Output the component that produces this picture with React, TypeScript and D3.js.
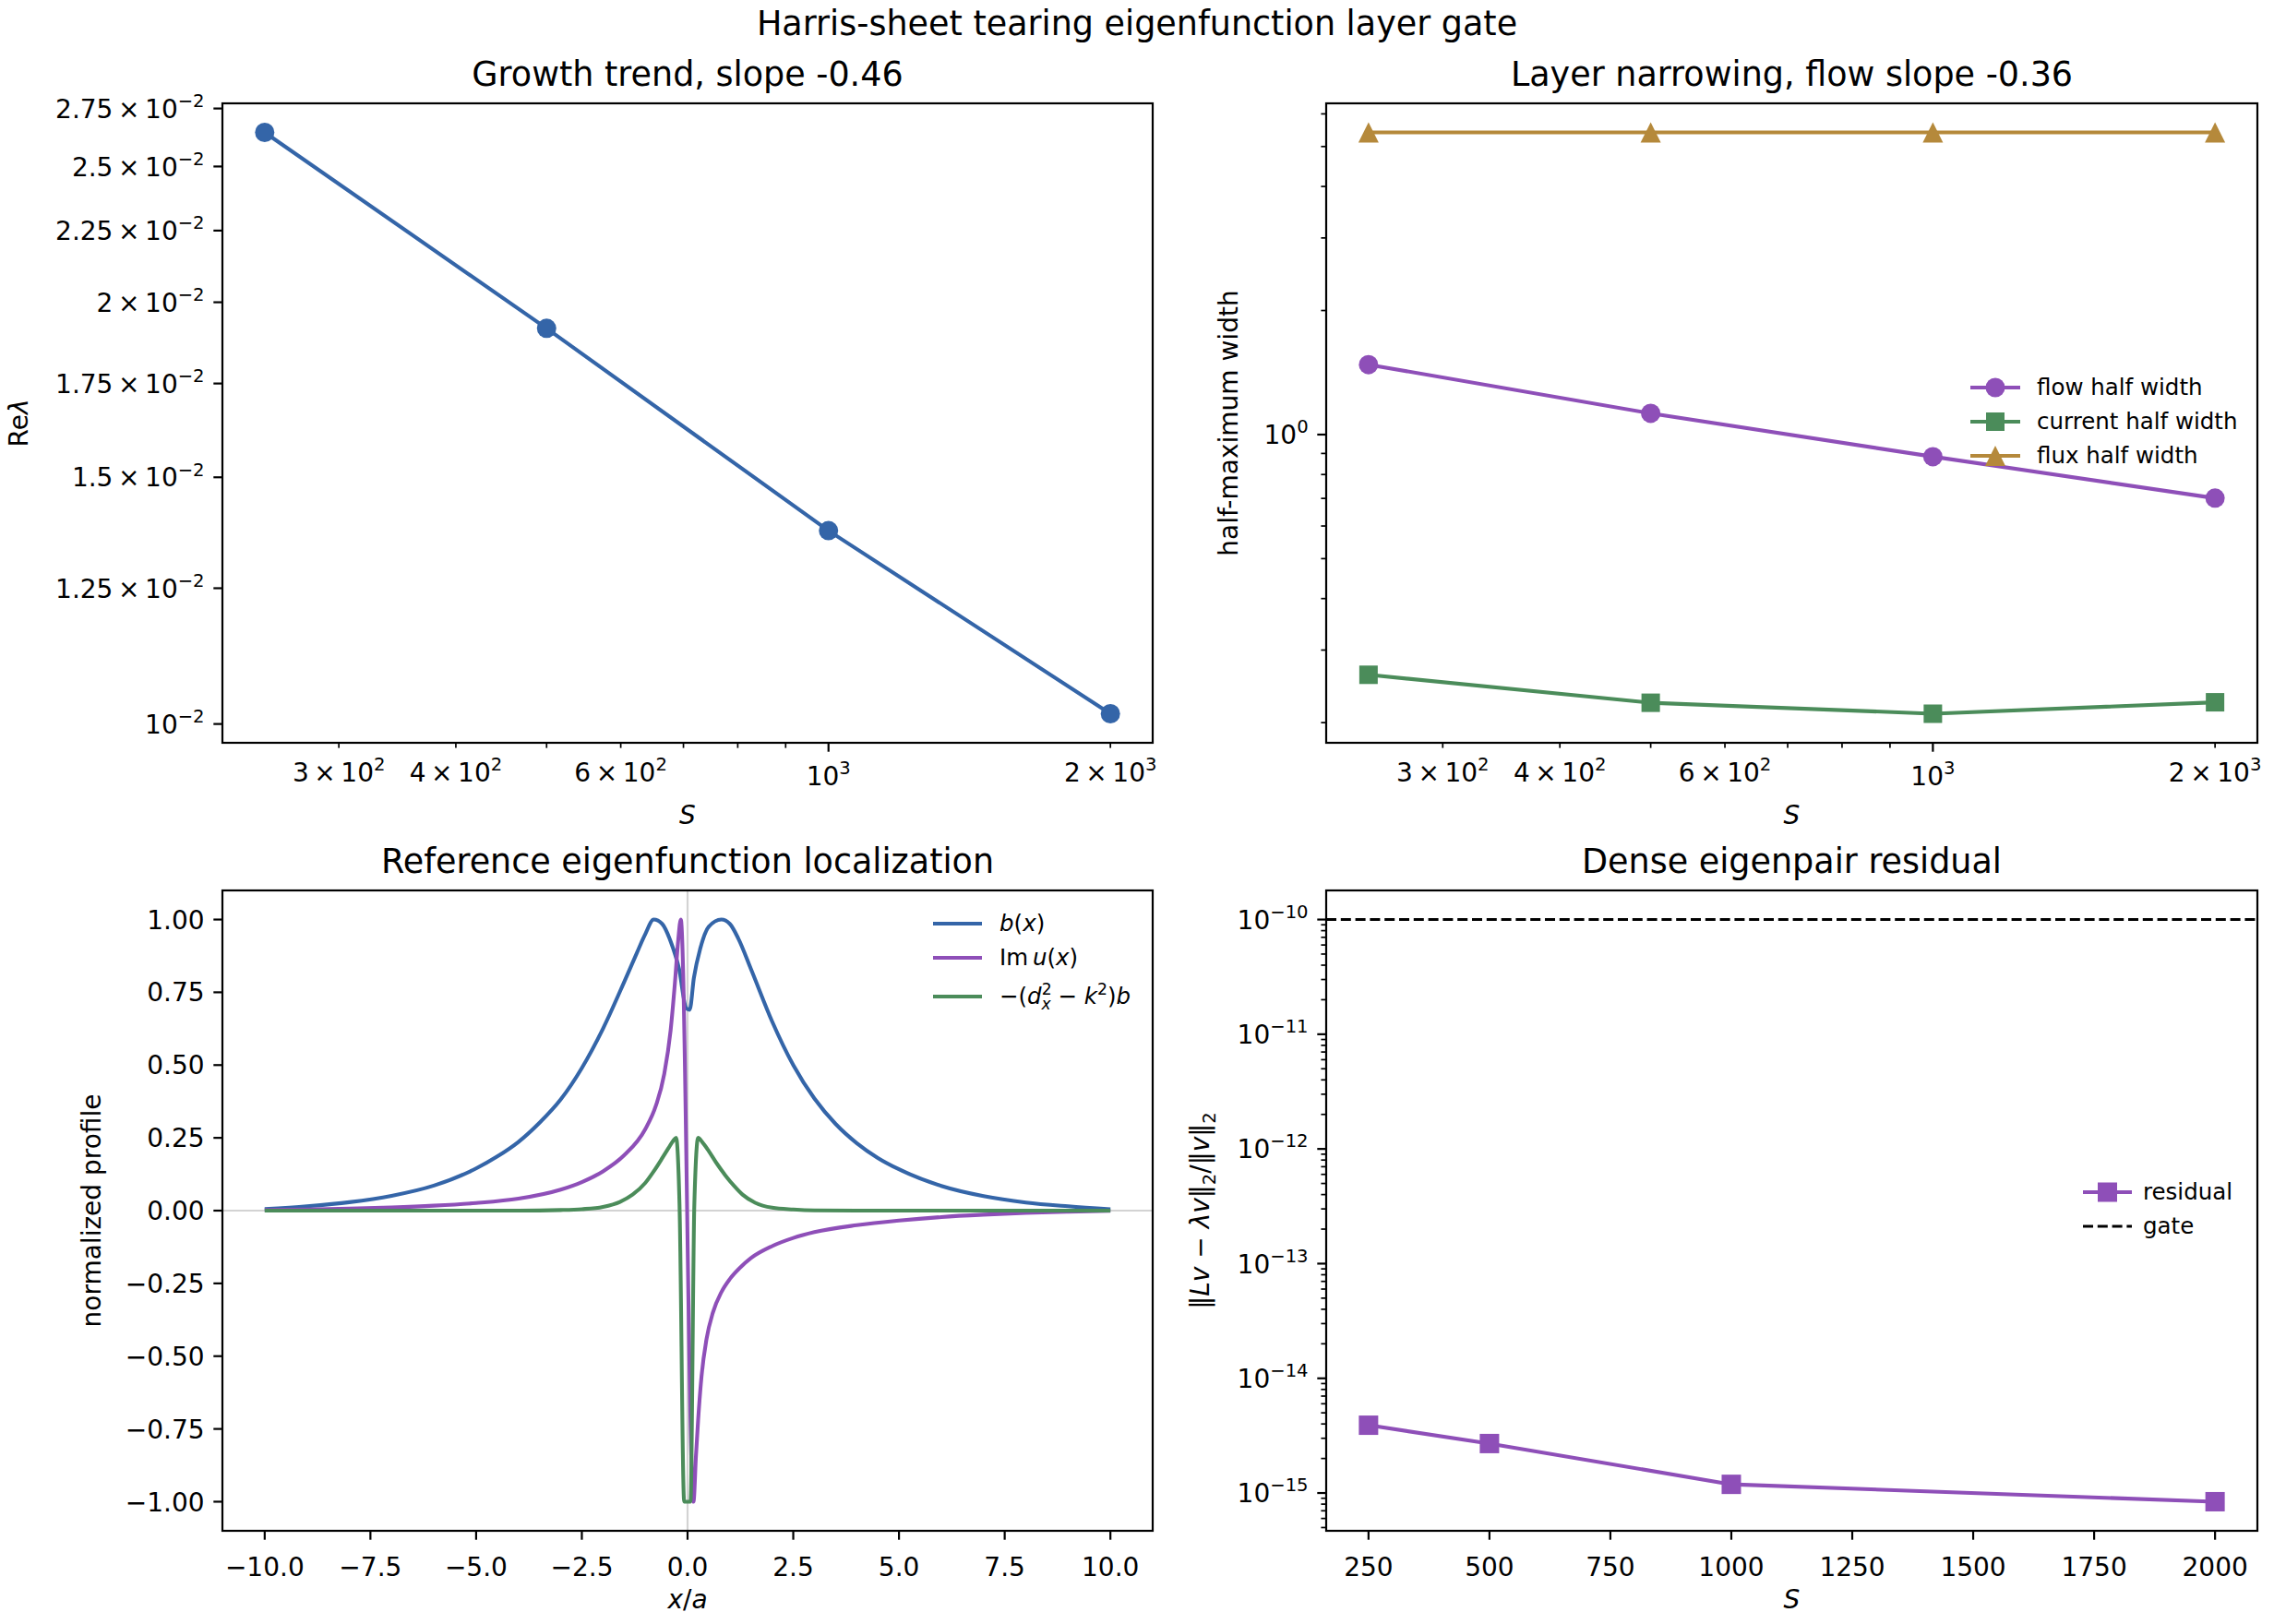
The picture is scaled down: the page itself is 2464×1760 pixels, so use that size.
import React from 'react';
import * as d3 from 'd3';

// ---- Lundquist-number scan ----
const S_VALUES = [250, 500, 1000, 2000];
const GROWTH_RATE = [0.02644, 0.01916, 0.01374, 0.01017];
const FLOW_HALF_WIDTH = [1.478, 1.126, 0.884, 0.701];
const CURRENT_HALF_WIDTH = [0.2613, 0.2235, 0.2102, 0.2241];
const FLUX_HALF_WIDTH = [5.41, 5.41, 5.41, 5.41];
const RESIDUAL = [3.9e-15, 2.7e-15, 1.19e-15, 8.4e-16];
const RESIDUAL_GATE = 1e-10;

// ---- reference eigenfunction profiles (x / a) ----
const B_X = [-10, -9, -8, -7, -6, -5, -4.5, -4, -3.5, -3, -2.5, -2, -1.5, -1.2, -1.0, -0.8, -0.6, -0.4, -0.2, -0.03, 0.05, 0.15, 0.3, 0.5, 0.8, 1.0, 1.2, 1.5, 2.0, 2.5, 3.0, 3.5, 4, 4.5, 5, 6, 7, 8, 9, 10];
const B_Y = [0.005, 0.015, 0.029, 0.051, 0.086, 0.145, 0.186, 0.236, 0.302, 0.382, 0.49, 0.625, 0.785, 0.885, 0.95, 1.0, 0.985, 0.925, 0.83, 0.695, 0.69, 0.8, 0.9, 0.975, 1.0, 0.985, 0.935, 0.83, 0.65, 0.5, 0.385, 0.298, 0.232, 0.181, 0.142, 0.085, 0.05, 0.028, 0.015, 0.005];

const IMU_X = [-10, -9, -8, -7, -6, -5, -4, -3, -2.5, -2, -1.5, -1.0, -0.75, -0.55, -0.4, -0.3, -0.22, -0.16, 0.14, 0.2, 0.25, 0.33, 0.45, 0.6, 0.8, 1.0, 1.25, 1.5, 2.0, 2.5, 3.0, 4, 5, 6, 7, 8, 9, 10];
const IMU_Y = [0.002, 0.004, 0.007, 0.011, 0.017, 0.026, 0.041, 0.072, 0.098, 0.135, 0.19, 0.28, 0.36, 0.47, 0.62, 0.78, 0.93, 1.0, -1.0, -0.84, -0.72, -0.57, -0.44, -0.35, -0.28, -0.235, -0.195, -0.163, -0.122, -0.094, -0.074, -0.05, -0.034, -0.022, -0.014, -0.008, -0.004, -0.001];

const CURL_X = [-10, -4, -3, -2.5, -2, -1.6, -1.3, -1.0, -0.8, -0.6, -0.45, -0.35, -0.27, -0.19, -0.08, 0.07, 0.16, 0.25, 0.35, 0.5, 0.7, 0.9, 1.1, 1.3, 1.6, 2.0, 2.5, 3, 4, 10];
const CURL_Y = [0, 0, 0.002, 0.005, 0.013, 0.03, 0.055, 0.095, 0.135, 0.18, 0.215, 0.238, 0.25, 0.02, -1.0, -1.0, 0.02, 0.25, 0.235, 0.205, 0.16, 0.12, 0.085, 0.055, 0.027, 0.01, 0.004, 0.001, 0, 0];

// ---- tick labels ----
const S_MAJOR_TICKS = [1000];
const S_MINOR_TICKS = [300, 400, 500, 600, 700, 800, 900, 2000];
const S_TICK_LABELS: [number, string, string][] = [
  [300, '3', '2'], [400, '4', '2'], [600, '6', '2'], [1000, '', '3'], [2000, '2', '3'],
];
const GROWTH_TICK_LABELS: [number, string, string][] = [
  [0.01, '', '\u22122'], [0.0125, '1.25', '\u22122'], [0.015, '1.5', '\u22122'], [0.0175, '1.75', '\u22122'],
  [0.02, '2', '\u22122'], [0.0225, '2.25', '\u22122'], [0.025, '2.5', '\u22122'], [0.0275, '2.75', '\u22122'],
];
const WIDTH_MAJOR_TICKS: [number, string, string][] = [[1, '', '0']];
const WIDTH_MINOR_TICKS = [0.2, 0.3, 0.4, 0.5, 0.6, 0.7, 0.8, 0.9, 2, 3, 4, 5, 6];
const PROFILE_X_TICKS = [-10, -7.5, -5, -2.5, 0, 2.5, 5, 7.5, 10];
const PROFILE_Y_TICKS = [-1, -0.75, -0.5, -0.25, 0, 0.25, 0.5, 0.75, 1];
const RESIDUAL_X_TICKS = [250, 500, 750, 1000, 1250, 1500, 1750, 2000];
const RESIDUAL_EXPONENTS = [-15, -14, -13, -12, -11, -10];

// ---- styling ----
const FONT = '"DejaVu Sans", Verdana, sans-serif';
const TICK_FS = 28;
const LABEL_FS = 28;
const TITLE_FS = 36.5;
const LEGEND_FS = 24.5;
const MAJOR_LEN = 9.7;
const MINOR_LEN = 5.6;
const TICK_PAD = 9.7;
const LW = 4.1;
const COLORS = { blue: '#3465a8', purple: '#8e4fb8', green: '#4b8c5a', gold: '#b5893b', grid: '#d3d3d3' };

type Panel = { left: number; right: number; top: number; bottom: number };
const P1: Panel = { left: 241, right: 1249, top: 112, bottom: 805 };
const P2: Panel = { left: 1437, right: 2446, top: 112, bottom: 805 };
const P3: Panel = { left: 241, right: 1249, top: 965, bottom: 1659 };
const P4: Panel = { left: 1437, right: 2446, top: 965, bottom: 1659 };

type Part = { t: string; it?: boolean; sup?: boolean; sub?: boolean; dx?: number };

function MathText({ x, y, fs, parts, anchor = 'start', transform }: {
  x: number; y: number; fs: number; parts: Part[]; anchor?: string; transform?: string;
}) {
  let cur = 0;
  return (
    <text x={x} y={y} fontSize={fs} textAnchor={anchor} transform={transform}
      fontFamily={FONT} fill="#000" style={{ whiteSpace: 'pre' }}>
      {parts.map((p, i) => {
        const target = p.sup ? -0.42 * fs : p.sub ? 0.24 * fs : 0;
        const dy = target - cur;
        cur = target;
        return (
          <tspan key={i} dy={dy !== 0 ? dy : undefined} dx={p.dx}
            fontSize={p.sup || p.sub ? fs * 0.7 : fs} fontStyle={p.it ? 'italic' : 'normal'}>
            {p.t}
          </tspan>
        );
      })}
    </text>
  );
}

const sci = (m: string, e: string): Part[] =>
  m ? [{ t: `${m}\u2009\u00d7\u200910` }, { t: e, sup: true }] : [{ t: '10' }, { t: e, sup: true }];

function logPad(lo: number, hi: number): [number, number] {
  const a = Math.log10(lo), b = Math.log10(hi), m = (b - a) * 0.05;
  return [10 ** (a - m), 10 ** (b + m)];
}
function linPad(lo: number, hi: number): [number, number] {
  const m = (hi - lo) * 0.05;
  return [lo - m, hi + m];
}

function Frame({ p }: { p: Panel }) {
  return <rect x={p.left} y={p.top} width={p.right - p.left} height={p.bottom - p.top}
    fill="none" stroke="#000" strokeWidth={2.2} />;
}

function xTicks(scale: (v: number) => number, vals: number[], p: Panel, len: number, key: string) {
  return vals.map((v, i) => {
    const x = scale(v);
    return <line key={key + i} x1={x} x2={x} y1={p.bottom} y2={p.bottom + len} stroke="#000"
      strokeWidth={len === MAJOR_LEN ? 2.2 : 1.7} />;
  });
}
function yTicks(scale: (v: number) => number, vals: number[], p: Panel, len: number, key: string) {
  return vals.map((v, i) => {
    const y = scale(v);
    return <line key={key + i} x1={p.left - len} x2={p.left} y1={y} y2={y} stroke="#000"
      strokeWidth={len === MAJOR_LEN ? 2.2 : 1.7} />;
  });
}

function Title({ p, text }: { p: Panel; text: string }) {
  return <text x={(p.left + p.right) / 2} y={p.top - 19} fontSize={TITLE_FS} textAnchor="middle"
    fontFamily={FONT} fill="#000">{text}</text>;
}

function YLabel({ x, p, parts }: { x: number; p: Panel; parts: Part[] }) {
  const cy = (p.top + p.bottom) / 2;
  return <MathText x={0} y={0.36 * LABEL_FS} fs={LABEL_FS} parts={parts} anchor="middle"
    transform={`translate(${x},${cy}) rotate(-90)`} />;
}

function XLabel({ p, parts, y }: { p: Panel; parts: Part[]; y: number }) {
  return <MathText x={(p.left + p.right) / 2} y={y} fs={LABEL_FS} parts={parts} anchor="middle" />;
}

type Marker = 'circle' | 'square' | 'triangle';
function MarkerShape({ kind, x, y, color, size }: { kind: Marker; x: number; y: number; color: string; size: number }) {
  if (kind === 'circle') return <circle cx={x} cy={y} r={size / 2} fill={color} />;
  if (kind === 'square') return <rect x={x - size / 2} y={y - size / 2} width={size} height={size} fill={color} />;
  const h = size / 2;
  return <path d={`M${x},${y - h}L${x + h},${y + h}L${x - h},${y + h}Z`} fill={color} />;
}

function Series({ xs, ys, sx, sy, color, marker, size }: {
  xs: number[]; ys: number[]; sx: (v: number) => number; sy: (v: number) => number;
  color: string; marker: Marker; size: number;
}) {
  const line = d3.line<number>().x((_, i) => sx(xs[i])).y((d) => sy(d));
  return (
    <g>
      <path d={line(ys) || ''} fill="none" stroke={color} strokeWidth={LW} strokeLinejoin="round" strokeLinecap="round" />
      {ys.map((v, i) => <MarkerShape key={i} kind={marker} x={sx(xs[i])} y={sy(v)} color={color} size={size} />)}
    </g>
  );
}

type LegendEntry = { parts: Part[]; color: string; marker?: Marker; dash?: string; size?: number };
function Legend({ rows, x0, x1, tx, entries }: { rows: number[]; x0: number; x1: number; tx: number; entries: LegendEntry[] }) {
  return (
    <g>
      {entries.map((e, i) => (
        <g key={i}>
          <line x1={x0} x2={x1} y1={rows[i]} y2={rows[i]} stroke={e.color} strokeWidth={e.dash ? 2.9 : LW}
            strokeDasharray={e.dash} />
          {e.marker && <MarkerShape kind={e.marker} x={(x0 + x1) / 2} y={rows[i]} color={e.color} size={e.size || 21} />}
          <MathText x={tx} y={rows[i] + 0.33 * LEGEND_FS} fs={LEGEND_FS} parts={e.parts} />
        </g>
      ))}
    </g>
  );
}

export default function App() {
  const sDomain = logPad(d3.min(S_VALUES)!, d3.max(S_VALUES)!);
  const x1 = d3.scaleLog().domain(sDomain).range([P1.left, P1.right]);
  const y1 = d3.scaleLog().domain(logPad(d3.min(GROWTH_RATE)!, d3.max(GROWTH_RATE)!)).range([P1.bottom, P1.top]);

  const x2 = d3.scaleLog().domain(sDomain).range([P2.left, P2.right]);
  const widths = [...FLOW_HALF_WIDTH, ...CURRENT_HALF_WIDTH, ...FLUX_HALF_WIDTH];
  const y2 = d3.scaleLog().domain(logPad(d3.min(widths)!, d3.max(widths)!)).range([P2.bottom, P2.top]);

  const profileYs = [...B_Y, ...IMU_Y, ...CURL_Y];
  const x3 = d3.scaleLinear().domain(linPad(d3.min(B_X)!, d3.max(B_X)!)).range([P3.left, P3.right]);
  const y3 = d3.scaleLinear().domain(linPad(d3.min(profileYs)!, d3.max(profileYs)!)).range([P3.bottom, P3.top]);

  const x4 = d3.scaleLinear().domain(linPad(d3.min(S_VALUES)!, d3.max(S_VALUES)!)).range([P4.left, P4.right]);
  const y4Domain = logPad(d3.min(RESIDUAL)!, Math.max(d3.max(RESIDUAL)!, RESIDUAL_GATE));
  const y4 = d3.scaleLog().domain(y4Domain).range([P4.bottom, P4.top]);
  const residualMinor: number[] = [];
  for (let e = -16; e <= -10; e++) {
    for (let m = 2; m <= 9; m++) {
      const v = m * 10 ** e;
      if (v >= y4Domain[0] && v <= y4Domain[1]) residualMinor.push(v);
    }
  }

  const profileLine = (xs: number[]) =>
    d3.line<number>().x((_, i) => x3(xs[i])).y((d) => y3(d)).curve(d3.curveMonotoneX);

  const xLabelBase = (p: Panel, len: number, sup: boolean) =>
    p.bottom + len + (len === MAJOR_LEN ? TICK_PAD : 9.4) + (sup ? 0.95 : 1.05) * TICK_FS;

  const fmt1 = d3.format('.1f');
  const fmt2 = d3.format('.2f');

  return (
    <svg width={2464} height={1760} viewBox="0 0 2464 1760"
      style={{ position: 'absolute', left: 0, top: 0, background: '#fff' }} fontFamily={FONT}>
      <rect x={0} y={0} width={2464} height={1760} fill="#fff" />
      <text x={1232} y={38} fontSize={TITLE_FS} textAnchor="middle" fill="#000">
        Harris-sheet tearing eigenfunction layer gate
      </text>

      {/* ---- growth trend ---- */}
      <g>
        <Series xs={S_VALUES} ys={GROWTH_RATE} sx={x1} sy={y1} color={COLORS.blue} marker="circle" size={21} />
        <Frame p={P1} />
        {xTicks(x1, S_MAJOR_TICKS, P1, MAJOR_LEN, 'a')}
        {xTicks(x1, S_MINOR_TICKS, P1, MINOR_LEN, 'b')}
        {S_TICK_LABELS.map(([v, m, e], i) => {
          const len = S_MAJOR_TICKS.includes(v) ? MAJOR_LEN : MINOR_LEN;
          return <MathText key={i} x={x1(v)} y={xLabelBase(P1, len, true)} fs={TICK_FS} parts={sci(m, e)} anchor="middle" />;
        })}
        {yTicks(y1, GROWTH_TICK_LABELS.map((d) => d[0]), P1, MAJOR_LEN, 'c')}
        {GROWTH_TICK_LABELS.map(([v, m, e], i) => (
          <MathText key={i} x={P1.left - MAJOR_LEN - TICK_PAD} y={y1(v) + 0.36 * TICK_FS} fs={TICK_FS} parts={sci(m, e)} anchor="end" />
        ))}
        <Title p={P1} text="Growth trend, slope -0.46" />
        <XLabel p={P1} y={893} parts={[{ t: 'S', it: true }]} />
        <YLabel x={20} p={P1} parts={[{ t: 'Re' }, { t: '\u03bb', it: true }]} />
      </g>

      {/* ---- layer widths ---- */}
      <g>
        <Series xs={S_VALUES} ys={FLOW_HALF_WIDTH} sx={x2} sy={y2} color={COLORS.purple} marker="circle" size={21} />
        <Series xs={S_VALUES} ys={CURRENT_HALF_WIDTH} sx={x2} sy={y2} color={COLORS.green} marker="square" size={20} />
        <Series xs={S_VALUES} ys={FLUX_HALF_WIDTH} sx={x2} sy={y2} color={COLORS.gold} marker="triangle" size={22} />
        <Frame p={P2} />
        {xTicks(x2, S_MAJOR_TICKS, P2, MAJOR_LEN, 'a')}
        {xTicks(x2, S_MINOR_TICKS, P2, MINOR_LEN, 'b')}
        {S_TICK_LABELS.map(([v, m, e], i) => {
          const len = S_MAJOR_TICKS.includes(v) ? MAJOR_LEN : MINOR_LEN;
          return <MathText key={i} x={x2(v)} y={xLabelBase(P2, len, true)} fs={TICK_FS} parts={sci(m, e)} anchor="middle" />;
        })}
        {yTicks(y2, WIDTH_MAJOR_TICKS.map((d) => d[0]), P2, MAJOR_LEN, 'c')}
        {yTicks(y2, WIDTH_MINOR_TICKS, P2, MINOR_LEN, 'd')}
        {WIDTH_MAJOR_TICKS.map(([v, m, e], i) => (
          <MathText key={i} x={P2.left - MAJOR_LEN - TICK_PAD} y={y2(v) + 0.36 * TICK_FS} fs={TICK_FS} parts={sci(m, e)} anchor="end" />
        ))}
        <Title p={P2} text="Layer narrowing, flow slope -0.36" />
        <XLabel p={P2} y={893} parts={[{ t: 'S', it: true }]} />
        <YLabel x={1331} p={P2} parts={[{ t: 'half-maximum width' }]} />
        <Legend rows={[420, 457, 494]} x0={2135} x1={2189} tx={2207} entries={[
          { parts: [{ t: 'flow half width' }], color: COLORS.purple, marker: 'circle' },
          { parts: [{ t: 'current half width' }], color: COLORS.green, marker: 'square', size: 20 },
          { parts: [{ t: 'flux half width' }], color: COLORS.gold, marker: 'triangle', size: 22 },
        ]} />
      </g>

      {/* ---- eigenfunction profiles ---- */}
      <g>
        <line x1={P3.left} x2={P3.right} y1={y3(0)} y2={y3(0)} stroke={COLORS.grid} strokeWidth={2.2} />
        <line x1={x3(0)} x2={x3(0)} y1={P3.top} y2={P3.bottom} stroke={COLORS.grid} strokeWidth={2.2} />
        <path d={profileLine(B_X)(B_Y) || ''} fill="none" stroke={COLORS.blue} strokeWidth={LW} strokeLinejoin="round" />
        <path d={profileLine(IMU_X)(IMU_Y) || ''} fill="none" stroke={COLORS.purple} strokeWidth={LW} strokeLinejoin="round" />
        <path d={profileLine(CURL_X)(CURL_Y) || ''} fill="none" stroke={COLORS.green} strokeWidth={LW} strokeLinejoin="round" />
        <Frame p={P3} />
        {xTicks(x3, PROFILE_X_TICKS, P3, MAJOR_LEN, 'a')}
        {PROFILE_X_TICKS.map((v, i) => (
          <text key={i} x={x3(v)} y={xLabelBase(P3, MAJOR_LEN, false)} fontSize={TICK_FS} textAnchor="middle" fill="#000">{fmt1(v)}</text>
        ))}
        {yTicks(y3, PROFILE_Y_TICKS, P3, MAJOR_LEN, 'b')}
        {PROFILE_Y_TICKS.map((v, i) => (
          <text key={i} x={P3.left - MAJOR_LEN - TICK_PAD} y={y3(v) + 0.36 * TICK_FS} fontSize={TICK_FS} textAnchor="end" fill="#000">{fmt2(v)}</text>
        ))}
        <Title p={P3} text="Reference eigenfunction localization" />
        <XLabel p={P3} y={1743} parts={[{ t: 'x', it: true }, { t: '/' }, { t: 'a', it: true }]} />
        <YLabel x={99} p={P3} parts={[{ t: 'normalized profile' }]} />
        <Legend rows={[1001, 1038, 1080]} x0={1011} x1={1064} tx={1083} entries={[
          { parts: [{ t: 'b', it: true }, { t: '(' }, { t: 'x', it: true }, { t: ')' }], color: COLORS.blue },
          { parts: [{ t: 'Im\u2009' }, { t: 'u', it: true }, { t: '(' }, { t: 'x', it: true }, { t: ')' }], color: COLORS.purple },
          {
            parts: [
              { t: '\u2212(' }, { t: 'd', it: true }, { t: '2', sup: true }, { t: 'x', it: true, sub: true, dx: -11 },
              { t: ' \u2212 ' }, { t: 'k', it: true }, { t: '2', sup: true }, { t: ')' }, { t: 'b', it: true },
            ],
            color: COLORS.green,
          },
        ]} />
      </g>

      {/* ---- eigenpair residual ---- */}
      <g>
        <line x1={P4.left} x2={P4.right} y1={y4(RESIDUAL_GATE)} y2={y4(RESIDUAL_GATE)} stroke="#000"
          strokeWidth={2.9} strokeDasharray="11,4.8" />
        <Series xs={S_VALUES} ys={RESIDUAL} sx={x4} sy={y4} color={COLORS.purple} marker="square" size={21} />
        <Frame p={P4} />
        {xTicks(x4, RESIDUAL_X_TICKS, P4, MAJOR_LEN, 'a')}
        {RESIDUAL_X_TICKS.map((v, i) => (
          <text key={i} x={x4(v)} y={xLabelBase(P4, MAJOR_LEN, false)} fontSize={TICK_FS} textAnchor="middle" fill="#000">{v}</text>
        ))}
        {yTicks(y4, RESIDUAL_EXPONENTS.map((e) => 10 ** e), P4, MAJOR_LEN, 'b')}
        {yTicks(y4, residualMinor, P4, MINOR_LEN, 'c')}
        {RESIDUAL_EXPONENTS.map((e, i) => (
          <MathText key={i} x={P4.left - MAJOR_LEN - TICK_PAD} y={y4(10 ** e) + 0.36 * TICK_FS} fs={TICK_FS}
            parts={sci('', `\u2212${Math.abs(e)}`)} anchor="end" />
        ))}
        <Title p={P4} text="Dense eigenpair residual" />
        <XLabel p={P4} y={1743} parts={[{ t: 'S', it: true }]} />
        <YLabel x={1300} p={P4} parts={[
          { t: '\u2016' }, { t: 'Lv', it: true }, { t: ' \u2212 ' }, { t: '\u03bbv', it: true }, { t: '\u2016' },
          { t: '2', sub: true }, { t: '/\u2016' }, { t: 'v', it: true }, { t: '\u2016' }, { t: '2', sub: true },
        ]} />
        <Legend rows={[1292, 1329]} x0={2257} x1={2310} tx={2322} entries={[
          { parts: [{ t: 'residual' }], color: COLORS.purple, marker: 'square', size: 21 },
          { parts: [{ t: 'gate' }], color: '#000', dash: '11,4.8' },
        ]} />
      </g>
    </svg>
  );
}
